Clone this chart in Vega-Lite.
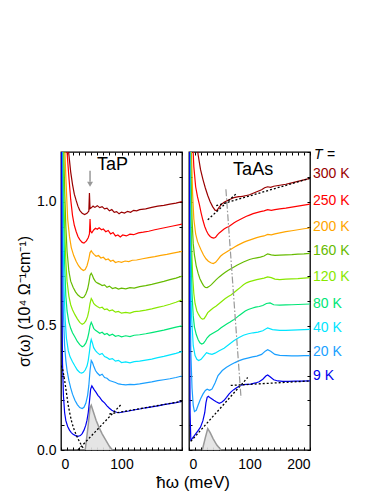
{
"$schema": "https://vega.github.io/schema/vega-lite/v6.json",
"padding": {"left": 15, "top": 147, "right": 0, "bottom": 0},
"background": "white",
"spacing": 3,
"config": {
  "font": "Liberation Sans",
  "view": {"stroke": "black", "strokeWidth": 1.3},
  "axis": {"domain": false, "grid": false, "tickColor": "black", "tickWidth": 1, "labelFont": "Liberation Sans", "labelFontSize": 14, "labelColor": "black", "titleFont": "Liberation Sans", "titleFontWeight": "normal", "titleColor": "black"}
},
"title": {"text": "ħω (meV)", "orient": "bottom", "anchor": "middle", "fontSize": 17, "fontWeight": "normal", "font": "Liberation Sans", "color": "black", "offset": 3, "dx": 10},
"datasets": {
"tap": [
{"T":"300 K","e":2,"s":1.6},{"T":"300 K","e":6,"s":1.38},{"T":"300 K","e":10,"s":1.26},{"T":"300 K","e":13,"s":1.19},{"T":"300 K","e":16,"s":1.12},{"T":"300 K","e":19,"s":1.07},{"T":"300 K","e":22,"s":1.03},{"T":"300 K","e":25,"s":1.005},{"T":"300 K","e":28,"s":0.982},{"T":"300 K","e":31,"s":0.965},{"T":"300 K","e":35,"s":0.953},{"T":"300 K","e":39,"s":0.948},{"T":"300 K","e":43,"s":0.953},{"T":"300 K","e":46,"s":0.962},{"T":"300 K","e":47,"s":1.035},{"T":"300 K","e":48,"s":0.972},{"T":"300 K","e":50,"s":0.975},{"T":"300 K","e":53,"s":0.982},{"T":"300 K","e":56,"s":0.977},{"T":"300 K","e":60,"s":0.984},{"T":"300 K","e":64,"s":0.976},{"T":"300 K","e":68,"s":0.98},{"T":"300 K","e":72,"s":0.971},{"T":"300 K","e":76,"s":0.974},{"T":"300 K","e":80,"s":0.963},{"T":"300 K","e":84,"s":0.968},{"T":"300 K","e":88,"s":0.957},{"T":"300 K","e":92,"s":0.96},{"T":"300 K","e":96,"s":0.951},{"T":"300 K","e":100,"s":0.958},{"T":"300 K","e":105,"s":0.954},{"T":"300 K","e":110,"s":0.961},{"T":"300 K","e":115,"s":0.957},{"T":"300 K","e":120,"s":0.965},{"T":"300 K","e":125,"s":0.963},{"T":"300 K","e":130,"s":0.968},{"T":"300 K","e":140,"s":0.971},{"T":"300 K","e":150,"s":0.977},{"T":"300 K","e":160,"s":0.982},{"T":"300 K","e":170,"s":0.985},{"T":"300 K","e":180,"s":0.99},{"T":"300 K","e":190,"s":0.994},{"T":"300 K","e":200,"s":1.0},
{"T":"250 K","e":2,"s":1.6},{"T":"250 K","e":6,"s":1.35},{"T":"250 K","e":10,"s":1.2},{"T":"250 K","e":13,"s":1.1},{"T":"250 K","e":16,"s":1.01},{"T":"250 K","e":19,"s":0.945},{"T":"250 K","e":22,"s":0.905},{"T":"250 K","e":25,"s":0.88},{"T":"250 K","e":28,"s":0.86},{"T":"250 K","e":31,"s":0.847},{"T":"250 K","e":35,"s":0.836},{"T":"250 K","e":38,"s":0.833},{"T":"250 K","e":42,"s":0.842},{"T":"250 K","e":45,"s":0.855},{"T":"250 K","e":47,"s":0.87},{"T":"250 K","e":48,"s":0.93},{"T":"250 K","e":49,"s":0.88},{"T":"250 K","e":51,"s":0.875},{"T":"250 K","e":54,"s":0.886},{"T":"250 K","e":57,"s":0.893},{"T":"250 K","e":60,"s":0.889},{"T":"250 K","e":63,"s":0.895},{"T":"250 K","e":67,"s":0.887},{"T":"250 K","e":70,"s":0.89},{"T":"250 K","e":74,"s":0.879},{"T":"250 K","e":78,"s":0.884},{"T":"250 K","e":82,"s":0.87},{"T":"250 K","e":86,"s":0.876},{"T":"250 K","e":90,"s":0.862},{"T":"250 K","e":94,"s":0.866},{"T":"250 K","e":98,"s":0.858},{"T":"250 K","e":102,"s":0.866},{"T":"250 K","e":108,"s":0.862},{"T":"250 K","e":114,"s":0.869},{"T":"250 K","e":120,"s":0.867},{"T":"250 K","e":128,"s":0.874},{"T":"250 K","e":136,"s":0.877},{"T":"250 K","e":145,"s":0.881},{"T":"250 K","e":155,"s":0.887},{"T":"250 K","e":165,"s":0.892},{"T":"250 K","e":175,"s":0.897},{"T":"250 K","e":185,"s":0.902},{"T":"250 K","e":200,"s":0.91},
{"T":"200 K","e":2,"s":1.6},{"T":"200 K","e":5,"s":1.3},{"T":"200 K","e":8,"s":1.1},{"T":"200 K","e":11,"s":0.93},{"T":"200 K","e":14,"s":0.86},{"T":"200 K","e":17,"s":0.815},{"T":"200 K","e":21,"s":0.783},{"T":"200 K","e":25,"s":0.76},{"T":"200 K","e":29,"s":0.742},{"T":"200 K","e":33,"s":0.73},{"T":"200 K","e":37,"s":0.723},{"T":"200 K","e":40,"s":0.727},{"T":"200 K","e":43,"s":0.742},{"T":"200 K","e":46,"s":0.77},{"T":"200 K","e":48,"s":0.795},{"T":"200 K","e":50,"s":0.802},{"T":"200 K","e":52,"s":0.795},{"T":"200 K","e":55,"s":0.787},{"T":"200 K","e":58,"s":0.78},{"T":"200 K","e":62,"s":0.783},{"T":"200 K","e":66,"s":0.773},{"T":"200 K","e":70,"s":0.776},{"T":"200 K","e":74,"s":0.766},{"T":"200 K","e":78,"s":0.769},{"T":"200 K","e":82,"s":0.76},{"T":"200 K","e":86,"s":0.764},{"T":"200 K","e":90,"s":0.755},{"T":"200 K","e":95,"s":0.759},{"T":"200 K","e":100,"s":0.756},{"T":"200 K","e":106,"s":0.761},{"T":"200 K","e":112,"s":0.759},{"T":"200 K","e":118,"s":0.764},{"T":"200 K","e":125,"s":0.765},{"T":"200 K","e":135,"s":0.77},{"T":"200 K","e":145,"s":0.775},{"T":"200 K","e":155,"s":0.779},{"T":"200 K","e":165,"s":0.784},{"T":"200 K","e":175,"s":0.788},{"T":"200 K","e":185,"s":0.793},{"T":"200 K","e":200,"s":0.8},
{"T":"160 K","e":2,"s":1.5},{"T":"160 K","e":4,"s":1.25},{"T":"160 K","e":6,"s":1.05},{"T":"160 K","e":8,"s":0.9},{"T":"160 K","e":10,"s":0.8},{"T":"160 K","e":13,"s":0.72},{"T":"160 K","e":16,"s":0.68},{"T":"160 K","e":20,"s":0.655},{"T":"160 K","e":24,"s":0.637},{"T":"160 K","e":28,"s":0.624},{"T":"160 K","e":32,"s":0.616},{"T":"160 K","e":35,"s":0.613},{"T":"160 K","e":38,"s":0.616},{"T":"160 K","e":41,"s":0.628},{"T":"160 K","e":44,"s":0.648},{"T":"160 K","e":46,"s":0.672},{"T":"160 K","e":48,"s":0.703},{"T":"160 K","e":50,"s":0.712},{"T":"160 K","e":52,"s":0.703},{"T":"160 K","e":54,"s":0.69},{"T":"160 K","e":57,"s":0.678},{"T":"160 K","e":60,"s":0.673},{"T":"160 K","e":64,"s":0.668},{"T":"160 K","e":68,"s":0.662},{"T":"160 K","e":72,"s":0.665},{"T":"160 K","e":76,"s":0.655},{"T":"160 K","e":80,"s":0.66},{"T":"160 K","e":85,"s":0.65},{"T":"160 K","e":90,"s":0.654},{"T":"160 K","e":95,"s":0.648},{"T":"160 K","e":100,"s":0.652},{"T":"160 K","e":107,"s":0.649},{"T":"160 K","e":114,"s":0.654},{"T":"160 K","e":121,"s":0.652},{"T":"160 K","e":130,"s":0.658},{"T":"160 K","e":140,"s":0.662},{"T":"160 K","e":150,"s":0.667},{"T":"160 K","e":160,"s":0.673},{"T":"160 K","e":170,"s":0.679},{"T":"160 K","e":180,"s":0.686},{"T":"160 K","e":190,"s":0.692},{"T":"160 K","e":200,"s":0.7},
{"T":"120 K","e":2,"s":1.4},{"T":"120 K","e":4,"s":1.1},{"T":"120 K","e":6,"s":0.9},{"T":"120 K","e":8,"s":0.76},{"T":"120 K","e":10,"s":0.68},{"T":"120 K","e":13,"s":0.62},{"T":"120 K","e":16,"s":0.585},{"T":"120 K","e":19,"s":0.565},{"T":"120 K","e":23,"s":0.545},{"T":"120 K","e":27,"s":0.528},{"T":"120 K","e":31,"s":0.514},{"T":"120 K","e":35,"s":0.506},{"T":"120 K","e":38,"s":0.51},{"T":"120 K","e":41,"s":0.52},{"T":"120 K","e":44,"s":0.538},{"T":"120 K","e":46,"s":0.56},{"T":"120 K","e":48,"s":0.59},{"T":"120 K","e":50,"s":0.61},{"T":"120 K","e":52,"s":0.602},{"T":"120 K","e":54,"s":0.59},{"T":"120 K","e":57,"s":0.583},{"T":"120 K","e":60,"s":0.578},{"T":"120 K","e":64,"s":0.572},{"T":"120 K","e":68,"s":0.575},{"T":"120 K","e":72,"s":0.565},{"T":"120 K","e":76,"s":0.568},{"T":"120 K","e":80,"s":0.56},{"T":"120 K","e":85,"s":0.564},{"T":"120 K","e":90,"s":0.555},{"T":"120 K","e":95,"s":0.558},{"T":"120 K","e":100,"s":0.551},{"T":"120 K","e":107,"s":0.554},{"T":"120 K","e":114,"s":0.551},{"T":"120 K","e":121,"s":0.557},{"T":"120 K","e":130,"s":0.559},{"T":"120 K","e":140,"s":0.563},{"T":"120 K","e":150,"s":0.568},{"T":"120 K","e":160,"s":0.574},{"T":"120 K","e":170,"s":0.58},{"T":"120 K","e":180,"s":0.587},{"T":"120 K","e":190,"s":0.595},{"T":"120 K","e":200,"s":0.605},
{"T":"80 K","e":2,"s":1.3},{"T":"80 K","e":4,"s":0.95},{"T":"80 K","e":6,"s":0.75},{"T":"80 K","e":8,"s":0.62},{"T":"80 K","e":10,"s":0.56},{"T":"80 K","e":13,"s":0.515},{"T":"80 K","e":16,"s":0.49},{"T":"80 K","e":19,"s":0.472},{"T":"80 K","e":23,"s":0.455},{"T":"80 K","e":27,"s":0.437},{"T":"80 K","e":31,"s":0.424},{"T":"80 K","e":35,"s":0.416},{"T":"80 K","e":38,"s":0.42},{"T":"80 K","e":41,"s":0.43},{"T":"80 K","e":44,"s":0.45},{"T":"80 K","e":46,"s":0.472},{"T":"80 K","e":48,"s":0.5},{"T":"80 K","e":50,"s":0.514},{"T":"80 K","e":52,"s":0.503},{"T":"80 K","e":54,"s":0.49},{"T":"80 K","e":57,"s":0.482},{"T":"80 K","e":60,"s":0.477},{"T":"80 K","e":64,"s":0.47},{"T":"80 K","e":68,"s":0.474},{"T":"80 K","e":72,"s":0.465},{"T":"80 K","e":76,"s":0.469},{"T":"80 K","e":80,"s":0.461},{"T":"80 K","e":85,"s":0.466},{"T":"80 K","e":90,"s":0.458},{"T":"80 K","e":95,"s":0.461},{"T":"80 K","e":100,"s":0.456},{"T":"80 K","e":107,"s":0.46},{"T":"80 K","e":114,"s":0.457},{"T":"80 K","e":121,"s":0.462},{"T":"80 K","e":130,"s":0.464},{"T":"80 K","e":140,"s":0.468},{"T":"80 K","e":150,"s":0.473},{"T":"80 K","e":160,"s":0.478},{"T":"80 K","e":170,"s":0.483},{"T":"80 K","e":180,"s":0.489},{"T":"80 K","e":190,"s":0.495},{"T":"80 K","e":200,"s":0.5},
{"T":"40 K","e":1.5,"s":1.3},{"T":"40 K","e":3,"s":0.9},{"T":"40 K","e":5,"s":0.65},{"T":"40 K","e":7,"s":0.52},{"T":"40 K","e":9,"s":0.45},{"T":"40 K","e":12,"s":0.4},{"T":"40 K","e":15,"s":0.375},{"T":"40 K","e":19,"s":0.355},{"T":"40 K","e":23,"s":0.338},{"T":"40 K","e":27,"s":0.322},{"T":"40 K","e":31,"s":0.312},{"T":"40 K","e":34,"s":0.31},{"T":"40 K","e":37,"s":0.313},{"T":"40 K","e":40,"s":0.322},{"T":"40 K","e":43,"s":0.338},{"T":"40 K","e":45,"s":0.36},{"T":"40 K","e":47,"s":0.395},{"T":"40 K","e":49,"s":0.435},{"T":"40 K","e":50,"s":0.445},{"T":"40 K","e":52,"s":0.43},{"T":"40 K","e":54,"s":0.412},{"T":"40 K","e":57,"s":0.4},{"T":"40 K","e":60,"s":0.392},{"T":"40 K","e":64,"s":0.384},{"T":"40 K","e":68,"s":0.389},{"T":"40 K","e":72,"s":0.376},{"T":"40 K","e":76,"s":0.372},{"T":"40 K","e":80,"s":0.365},{"T":"40 K","e":85,"s":0.368},{"T":"40 K","e":90,"s":0.358},{"T":"40 K","e":95,"s":0.361},{"T":"40 K","e":100,"s":0.352},{"T":"40 K","e":107,"s":0.355},{"T":"40 K","e":114,"s":0.351},{"T":"40 K","e":121,"s":0.356},{"T":"40 K","e":130,"s":0.358},{"T":"40 K","e":140,"s":0.362},{"T":"40 K","e":150,"s":0.366},{"T":"40 K","e":160,"s":0.372},{"T":"40 K","e":170,"s":0.377},{"T":"40 K","e":180,"s":0.383},{"T":"40 K","e":190,"s":0.389},{"T":"40 K","e":200,"s":0.396},
{"T":"20 K","e":1,"s":1.3},{"T":"20 K","e":2.5,"s":0.8},{"T":"20 K","e":4,"s":0.55},{"T":"20 K","e":6,"s":0.42},{"T":"20 K","e":8,"s":0.36},{"T":"20 K","e":10,"s":0.32},{"T":"20 K","e":13,"s":0.28},{"T":"20 K","e":16,"s":0.25},{"T":"20 K","e":19,"s":0.225},{"T":"20 K","e":23,"s":0.2},{"T":"20 K","e":27,"s":0.183},{"T":"20 K","e":31,"s":0.171},{"T":"20 K","e":35,"s":0.167},{"T":"20 K","e":38,"s":0.172},{"T":"20 K","e":41,"s":0.188},{"T":"20 K","e":44,"s":0.22},{"T":"20 K","e":46,"s":0.26},{"T":"20 K","e":48,"s":0.32},{"T":"20 K","e":50,"s":0.36},{"T":"20 K","e":52,"s":0.352},{"T":"20 K","e":54,"s":0.338},{"T":"20 K","e":57,"s":0.32},{"T":"20 K","e":60,"s":0.31},{"T":"20 K","e":64,"s":0.3},{"T":"20 K","e":68,"s":0.305},{"T":"20 K","e":72,"s":0.292},{"T":"20 K","e":76,"s":0.289},{"T":"20 K","e":80,"s":0.28},{"T":"20 K","e":85,"s":0.276},{"T":"20 K","e":90,"s":0.272},{"T":"20 K","e":95,"s":0.266},{"T":"20 K","e":100,"s":0.264},{"T":"20 K","e":107,"s":0.262},{"T":"20 K","e":114,"s":0.264},{"T":"20 K","e":121,"s":0.263},{"T":"20 K","e":130,"s":0.266},{"T":"20 K","e":140,"s":0.27},{"T":"20 K","e":150,"s":0.274},{"T":"20 K","e":160,"s":0.279},{"T":"20 K","e":170,"s":0.283},{"T":"20 K","e":180,"s":0.287},{"T":"20 K","e":190,"s":0.292},{"T":"20 K","e":200,"s":0.298},
{"T":"9 K","e":0.8,"s":1.3},{"T":"9 K","e":1.5,"s":0.7},{"T":"9 K","e":2.5,"s":0.35},{"T":"9 K","e":4,"s":0.22},{"T":"9 K","e":6,"s":0.15},{"T":"9 K","e":8,"s":0.118},{"T":"9 K","e":11,"s":0.095},{"T":"9 K","e":14,"s":0.08},{"T":"9 K","e":17,"s":0.07},{"T":"9 K","e":20,"s":0.063},{"T":"9 K","e":24,"s":0.058},{"T":"9 K","e":28,"s":0.055},{"T":"9 K","e":32,"s":0.058},{"T":"9 K","e":35,"s":0.066},{"T":"9 K","e":38,"s":0.08},{"T":"9 K","e":41,"s":0.1},{"T":"9 K","e":43,"s":0.12},{"T":"9 K","e":45,"s":0.15},{"T":"9 K","e":47,"s":0.195},{"T":"9 K","e":49,"s":0.245},{"T":"9 K","e":51,"s":0.258},{"T":"9 K","e":53,"s":0.25},{"T":"9 K","e":55,"s":0.242},{"T":"9 K","e":58,"s":0.232},{"T":"9 K","e":61,"s":0.22},{"T":"9 K","e":64,"s":0.212},{"T":"9 K","e":68,"s":0.198},{"T":"9 K","e":72,"s":0.19},{"T":"9 K","e":76,"s":0.178},{"T":"9 K","e":80,"s":0.168},{"T":"9 K","e":84,"s":0.16},{"T":"9 K","e":88,"s":0.155},{"T":"9 K","e":92,"s":0.152},{"T":"9 K","e":96,"s":0.15},{"T":"9 K","e":100,"s":0.152},{"T":"9 K","e":110,"s":0.156},{"T":"9 K","e":120,"s":0.161},{"T":"9 K","e":130,"s":0.165},{"T":"9 K","e":140,"s":0.17},{"T":"9 K","e":150,"s":0.174},{"T":"9 K","e":160,"s":0.178},{"T":"9 K","e":170,"s":0.183},{"T":"9 K","e":180,"s":0.187},{"T":"9 K","e":190,"s":0.191},{"T":"9 K","e":200,"s":0.196}
],
"taas": [
{"T":"300 K","e":3,"s":1.8},{"T":"300 K","e":7,"s":1.45},{"T":"300 K","e":11,"s":1.27},{"T":"300 K","e":15,"s":1.19},{"T":"300 K","e":19,"s":1.13},{"T":"300 K","e":23,"s":1.09},{"T":"300 K","e":27,"s":1.055},{"T":"300 K","e":31,"s":1.025},{"T":"300 K","e":35,"s":1.0},{"T":"300 K","e":39,"s":0.98},{"T":"300 K","e":43,"s":0.966},{"T":"300 K","e":46,"s":0.964},{"T":"300 K","e":50,"s":0.978},{"T":"300 K","e":54,"s":0.99},{"T":"300 K","e":58,"s":0.998},{"T":"300 K","e":62,"s":1.003},{"T":"300 K","e":66,"s":1.008},{"T":"300 K","e":70,"s":1.012},{"T":"300 K","e":74,"s":1.016},{"T":"300 K","e":78,"s":1.018},{"T":"300 K","e":82,"s":1.02},{"T":"300 K","e":86,"s":1.02},{"T":"300 K","e":90,"s":1.022},{"T":"300 K","e":95,"s":1.025},{"T":"300 K","e":100,"s":1.028},{"T":"300 K","e":105,"s":1.033},{"T":"300 K","e":110,"s":1.038},{"T":"300 K","e":115,"s":1.043},{"T":"300 K","e":120,"s":1.048},{"T":"300 K","e":125,"s":1.056},{"T":"300 K","e":130,"s":1.06},{"T":"300 K","e":135,"s":1.058},{"T":"300 K","e":140,"s":1.062},{"T":"300 K","e":145,"s":1.064},{"T":"300 K","e":150,"s":1.066},{"T":"300 K","e":160,"s":1.07},{"T":"300 K","e":170,"s":1.076},{"T":"300 K","e":180,"s":1.082},{"T":"300 K","e":190,"s":1.088},{"T":"300 K","e":200,"s":1.094},
{"T":"250 K","e":2,"s":1.6},{"T":"250 K","e":5,"s":1.3},{"T":"250 K","e":8,"s":1.14},{"T":"250 K","e":11,"s":1.06},{"T":"250 K","e":14,"s":1.02},{"T":"250 K","e":17,"s":0.99},{"T":"250 K","e":20,"s":0.955},{"T":"250 K","e":23,"s":0.925},{"T":"250 K","e":26,"s":0.9},{"T":"250 K","e":29,"s":0.882},{"T":"250 K","e":32,"s":0.868},{"T":"250 K","e":35,"s":0.86},{"T":"250 K","e":38,"s":0.855},{"T":"250 K","e":41,"s":0.853},{"T":"250 K","e":44,"s":0.857},{"T":"250 K","e":47,"s":0.866},{"T":"250 K","e":50,"s":0.874},{"T":"250 K","e":54,"s":0.882},{"T":"250 K","e":58,"s":0.89},{"T":"250 K","e":62,"s":0.896},{"T":"250 K","e":66,"s":0.9},{"T":"250 K","e":70,"s":0.907},{"T":"250 K","e":74,"s":0.914},{"T":"250 K","e":78,"s":0.92},{"T":"250 K","e":82,"s":0.925},{"T":"250 K","e":86,"s":0.93},{"T":"250 K","e":90,"s":0.935},{"T":"250 K","e":95,"s":0.941},{"T":"250 K","e":100,"s":0.946},{"T":"250 K","e":106,"s":0.952},{"T":"250 K","e":112,"s":0.956},{"T":"250 K","e":118,"s":0.96},{"T":"250 K","e":124,"s":0.963},{"T":"250 K","e":130,"s":0.968},{"T":"250 K","e":136,"s":0.965},{"T":"250 K","e":142,"s":0.968},{"T":"250 K","e":150,"s":0.971},{"T":"250 K","e":160,"s":0.974},{"T":"250 K","e":170,"s":0.978},{"T":"250 K","e":180,"s":0.982},{"T":"250 K","e":190,"s":0.986},{"T":"250 K","e":200,"s":0.99},
{"T":"200 K","e":2,"s":1.5},{"T":"200 K","e":4,"s":1.2},{"T":"200 K","e":6,"s":1.03},{"T":"200 K","e":8,"s":0.93},{"T":"200 K","e":11,"s":0.87},{"T":"200 K","e":14,"s":0.84},{"T":"200 K","e":17,"s":0.822},{"T":"200 K","e":20,"s":0.805},{"T":"200 K","e":24,"s":0.785},{"T":"200 K","e":28,"s":0.77},{"T":"200 K","e":32,"s":0.76},{"T":"200 K","e":36,"s":0.754},{"T":"200 K","e":40,"s":0.751},{"T":"200 K","e":44,"s":0.756},{"T":"200 K","e":48,"s":0.768},{"T":"200 K","e":52,"s":0.78},{"T":"200 K","e":56,"s":0.788},{"T":"200 K","e":60,"s":0.794},{"T":"200 K","e":64,"s":0.8},{"T":"200 K","e":68,"s":0.806},{"T":"200 K","e":72,"s":0.812},{"T":"200 K","e":76,"s":0.818},{"T":"200 K","e":80,"s":0.824},{"T":"200 K","e":85,"s":0.83},{"T":"200 K","e":90,"s":0.836},{"T":"200 K","e":95,"s":0.841},{"T":"200 K","e":100,"s":0.845},{"T":"200 K","e":106,"s":0.85},{"T":"200 K","e":112,"s":0.855},{"T":"200 K","e":118,"s":0.859},{"T":"200 K","e":124,"s":0.862},{"T":"200 K","e":130,"s":0.868},{"T":"200 K","e":136,"s":0.866},{"T":"200 K","e":142,"s":0.87},{"T":"200 K","e":150,"s":0.874},{"T":"200 K","e":160,"s":0.879},{"T":"200 K","e":170,"s":0.883},{"T":"200 K","e":180,"s":0.887},{"T":"200 K","e":190,"s":0.891},{"T":"200 K","e":200,"s":0.894},
{"T":"160 K","e":1.5,"s":1.5},{"T":"160 K","e":3,"s":1.15},{"T":"160 K","e":5,"s":0.93},{"T":"160 K","e":7,"s":0.83},{"T":"160 K","e":9,"s":0.785},{"T":"160 K","e":12,"s":0.74},{"T":"160 K","e":15,"s":0.712},{"T":"160 K","e":18,"s":0.69},{"T":"160 K","e":21,"s":0.675},{"T":"160 K","e":24,"s":0.662},{"T":"160 K","e":27,"s":0.655},{"T":"160 K","e":30,"s":0.654},{"T":"160 K","e":33,"s":0.658},{"T":"160 K","e":37,"s":0.666},{"T":"160 K","e":41,"s":0.676},{"T":"160 K","e":45,"s":0.686},{"T":"160 K","e":50,"s":0.697},{"T":"160 K","e":55,"s":0.707},{"T":"160 K","e":60,"s":0.716},{"T":"160 K","e":65,"s":0.724},{"T":"160 K","e":70,"s":0.731},{"T":"160 K","e":75,"s":0.738},{"T":"160 K","e":80,"s":0.745},{"T":"160 K","e":85,"s":0.751},{"T":"160 K","e":90,"s":0.757},{"T":"160 K","e":95,"s":0.762},{"T":"160 K","e":100,"s":0.767},{"T":"160 K","e":106,"s":0.771},{"T":"160 K","e":112,"s":0.774},{"T":"160 K","e":118,"s":0.777},{"T":"160 K","e":124,"s":0.781},{"T":"160 K","e":130,"s":0.79},{"T":"160 K","e":136,"s":0.786},{"T":"160 K","e":142,"s":0.784},{"T":"160 K","e":150,"s":0.785},{"T":"160 K","e":160,"s":0.786},{"T":"160 K","e":170,"s":0.787},{"T":"160 K","e":180,"s":0.789},{"T":"160 K","e":190,"s":0.79},{"T":"160 K","e":200,"s":0.792},
{"T":"120 K","e":1.2,"s":1.5},{"T":"120 K","e":2.5,"s":1.1},{"T":"120 K","e":4,"s":0.85},{"T":"120 K","e":6,"s":0.7},{"T":"120 K","e":8,"s":0.63},{"T":"120 K","e":10,"s":0.59},{"T":"120 K","e":13,"s":0.56},{"T":"120 K","e":16,"s":0.545},{"T":"120 K","e":19,"s":0.533},{"T":"120 K","e":22,"s":0.527},{"T":"120 K","e":25,"s":0.529},{"T":"120 K","e":28,"s":0.54},{"T":"120 K","e":31,"s":0.553},{"T":"120 K","e":35,"s":0.562},{"T":"120 K","e":40,"s":0.572},{"T":"120 K","e":45,"s":0.58},{"T":"120 K","e":50,"s":0.59},{"T":"120 K","e":55,"s":0.6},{"T":"120 K","e":60,"s":0.61},{"T":"120 K","e":65,"s":0.618},{"T":"120 K","e":70,"s":0.625},{"T":"120 K","e":75,"s":0.635},{"T":"120 K","e":80,"s":0.645},{"T":"120 K","e":85,"s":0.655},{"T":"120 K","e":90,"s":0.665},{"T":"120 K","e":95,"s":0.673},{"T":"120 K","e":100,"s":0.678},{"T":"120 K","e":106,"s":0.682},{"T":"120 K","e":112,"s":0.686},{"T":"120 K","e":118,"s":0.689},{"T":"120 K","e":124,"s":0.692},{"T":"120 K","e":130,"s":0.697},{"T":"120 K","e":136,"s":0.694},{"T":"120 K","e":142,"s":0.688},{"T":"120 K","e":150,"s":0.686},{"T":"120 K","e":160,"s":0.688},{"T":"120 K","e":170,"s":0.689},{"T":"120 K","e":180,"s":0.69},{"T":"120 K","e":190,"s":0.692},{"T":"120 K","e":200,"s":0.694},
{"T":"80 K","e":1,"s":1.5},{"T":"80 K","e":2,"s":1.05},{"T":"80 K","e":3.5,"s":0.78},{"T":"80 K","e":5,"s":0.63},{"T":"80 K","e":7,"s":0.54},{"T":"80 K","e":9,"s":0.495},{"T":"80 K","e":12,"s":0.465},{"T":"80 K","e":15,"s":0.445},{"T":"80 K","e":18,"s":0.432},{"T":"80 K","e":21,"s":0.427},{"T":"80 K","e":24,"s":0.43},{"T":"80 K","e":27,"s":0.44},{"T":"80 K","e":30,"s":0.452},{"T":"80 K","e":34,"s":0.462},{"T":"80 K","e":38,"s":0.468},{"T":"80 K","e":43,"s":0.475},{"T":"80 K","e":48,"s":0.482},{"T":"80 K","e":53,"s":0.492},{"T":"80 K","e":58,"s":0.5},{"T":"80 K","e":63,"s":0.508},{"T":"80 K","e":68,"s":0.515},{"T":"80 K","e":73,"s":0.523},{"T":"80 K","e":78,"s":0.532},{"T":"80 K","e":83,"s":0.542},{"T":"80 K","e":88,"s":0.551},{"T":"80 K","e":93,"s":0.56},{"T":"80 K","e":98,"s":0.566},{"T":"80 K","e":104,"s":0.571},{"T":"80 K","e":110,"s":0.575},{"T":"80 K","e":116,"s":0.578},{"T":"80 K","e":122,"s":0.582},{"T":"80 K","e":128,"s":0.59},{"T":"80 K","e":134,"s":0.592},{"T":"80 K","e":140,"s":0.585},{"T":"80 K","e":150,"s":0.583},{"T":"80 K","e":160,"s":0.584},{"T":"80 K","e":170,"s":0.585},{"T":"80 K","e":180,"s":0.586},{"T":"80 K","e":190,"s":0.587},{"T":"80 K","e":200,"s":0.588},
{"T":"40 K","e":1,"s":1.4},{"T":"40 K","e":2,"s":0.8},{"T":"40 K","e":4,"s":0.55},{"T":"40 K","e":7,"s":0.42},{"T":"40 K","e":10,"s":0.38},{"T":"40 K","e":13,"s":0.365},{"T":"40 K","e":16,"s":0.36},{"T":"40 K","e":20,"s":0.365},{"T":"40 K","e":25,"s":0.38},{"T":"40 K","e":29,"s":0.392},{"T":"40 K","e":33,"s":0.388},{"T":"40 K","e":38,"s":0.385},{"T":"40 K","e":43,"s":0.39},{"T":"40 K","e":50,"s":0.4},{"T":"40 K","e":58,"s":0.41},{"T":"40 K","e":66,"s":0.425},{"T":"40 K","e":74,"s":0.44},{"T":"40 K","e":82,"s":0.452},{"T":"40 K","e":90,"s":0.462},{"T":"40 K","e":98,"s":0.468},{"T":"40 K","e":106,"s":0.472},{"T":"40 K","e":114,"s":0.475},{"T":"40 K","e":122,"s":0.48},{"T":"40 K","e":130,"s":0.492},{"T":"40 K","e":138,"s":0.485},{"T":"40 K","e":150,"s":0.482},{"T":"40 K","e":160,"s":0.482},{"T":"40 K","e":170,"s":0.483},{"T":"40 K","e":180,"s":0.484},{"T":"40 K","e":190,"s":0.485},{"T":"40 K","e":200,"s":0.486},
{"T":"20 K","e":1,"s":1.3},{"T":"20 K","e":1.8,"s":0.7},{"T":"20 K","e":3,"s":0.4},{"T":"20 K","e":5,"s":0.25},{"T":"20 K","e":7,"s":0.18},{"T":"20 K","e":9,"s":0.155},{"T":"20 K","e":12,"s":0.16},{"T":"20 K","e":15,"s":0.18},{"T":"20 K","e":19,"s":0.205},{"T":"20 K","e":23,"s":0.225},{"T":"20 K","e":27,"s":0.24},{"T":"20 K","e":30,"s":0.245},{"T":"20 K","e":34,"s":0.24},{"T":"20 K","e":38,"s":0.245},{"T":"20 K","e":43,"s":0.27},{"T":"20 K","e":48,"s":0.3},{"T":"20 K","e":55,"s":0.32},{"T":"20 K","e":62,"s":0.333},{"T":"20 K","e":69,"s":0.343},{"T":"20 K","e":76,"s":0.352},{"T":"20 K","e":83,"s":0.36},{"T":"20 K","e":90,"s":0.366},{"T":"20 K","e":97,"s":0.37},{"T":"20 K","e":105,"s":0.375},{"T":"20 K","e":112,"s":0.378},{"T":"20 K","e":120,"s":0.385},{"T":"20 K","e":126,"s":0.398},{"T":"20 K","e":130,"s":0.404},{"T":"20 K","e":135,"s":0.398},{"T":"20 K","e":142,"s":0.385},{"T":"20 K","e":150,"s":0.381},{"T":"20 K","e":160,"s":0.38},{"T":"20 K","e":170,"s":0.379},{"T":"20 K","e":180,"s":0.379},{"T":"20 K","e":190,"s":0.38},{"T":"20 K","e":200,"s":0.38},
{"T":"9 K","e":0.5,"s":1.3},{"T":"9 K","e":1,"s":0.5},{"T":"9 K","e":1.8,"s":0.15},{"T":"9 K","e":3,"s":0.04},{"T":"9 K","e":5,"s":0.045},{"T":"9 K","e":8,"s":0.055},{"T":"9 K","e":11,"s":0.065},{"T":"9 K","e":15,"s":0.078},{"T":"9 K","e":19,"s":0.092},{"T":"9 K","e":23,"s":0.118},{"T":"9 K","e":26,"s":0.15},{"T":"9 K","e":28,"s":0.19},{"T":"9 K","e":30,"s":0.212},{"T":"9 K","e":32,"s":0.216},{"T":"9 K","e":35,"s":0.21},{"T":"9 K","e":38,"s":0.205},{"T":"9 K","e":41,"s":0.2},{"T":"9 K","e":45,"s":0.194},{"T":"9 K","e":50,"s":0.188},{"T":"9 K","e":54,"s":0.192},{"T":"9 K","e":58,"s":0.2},{"T":"9 K","e":62,"s":0.212},{"T":"9 K","e":66,"s":0.225},{"T":"9 K","e":70,"s":0.235},{"T":"9 K","e":74,"s":0.243},{"T":"9 K","e":78,"s":0.25},{"T":"9 K","e":82,"s":0.256},{"T":"9 K","e":86,"s":0.261},{"T":"9 K","e":90,"s":0.263},{"T":"9 K","e":95,"s":0.264},{"T":"9 K","e":102,"s":0.265},{"T":"9 K","e":110,"s":0.27},{"T":"9 K","e":116,"s":0.275},{"T":"9 K","e":122,"s":0.285},{"T":"9 K","e":127,"s":0.298},{"T":"9 K","e":130,"s":0.302},{"T":"9 K","e":134,"s":0.295},{"T":"9 K","e":140,"s":0.283},{"T":"9 K","e":147,"s":0.278},{"T":"9 K","e":155,"s":0.276},{"T":"9 K","e":165,"s":0.276},{"T":"9 K","e":175,"s":0.277},{"T":"9 K","e":185,"s":0.277},{"T":"9 K","e":200,"s":0.278}
],
"tapfit": [
{"g":"drude","e":0,"s":0.34},{"g":"drude","e":3,"s":0.322},{"g":"drude","e":6,"s":0.28},{"g":"drude","e":9,"s":0.23},{"g":"drude","e":12,"s":0.18},{"g":"drude","e":15,"s":0.142},{"g":"drude","e":18,"s":0.11},{"g":"drude","e":22,"s":0.08},{"g":"drude","e":26,"s":0.056},{"g":"drude","e":30,"s":0.036},{"g":"drude","e":34,"s":0.018},{"g":"drude","e":38,"s":0.003},
{"g":"lin","e":28,"s":0},{"g":"lin","e":100,"s":0.185},
{"g":"flat","e":80,"s":0.145},{"g":"flat","e":200,"s":0.196}
],
"taasfit": [
{"g":"a300","e":31,"s":0.927},{"g":"a300","e":78,"s":1.032},
{"g":"b300","e":45,"s":0.984},{"g":"b300","e":200,"s":1.094},
{"g":"a9","e":3,"s":0.035},{"g":"a9","e":97,"s":0.292},
{"g":"b9","e":69,"s":0.26},{"g":"b9","e":200,"s":0.278}
],
"taph": [
{"e":40,"s":0},{"e":45,"s":0.1},{"e":48,"s":0.17},{"e":50,"s":0.18},{"e":54,"s":0.15},{"e":58,"s":0.12},{"e":63,"s":0.09},{"e":68,"s":0.065},{"e":74,"s":0.04},{"e":80,"s":0.015},{"e":85,"s":0}
],
"taash": [
{"e":22,"s":0},{"e":27,"s":0.05},{"e":31,"s":0.086},{"e":35,"s":0.07},{"e":40,"s":0.045},{"e":46,"s":0.02},{"e":53,"s":0}
],
"labels": [
{"T":"300 K","s":1.113},{"T":"250 K","s":1.004},{"T":"200 K","s":0.898},{"T":"160 K","s":0.8},{"T":"120 K","s":0.698},{"T":"80 K","s":0.588},{"T":"40 K","s":0.491},{"T":"20 K","s":0.396},{"T":"9 K","s":0.298}
]
},
"hconcat": [
{
 "width": 121, "height": 298,
 "resolve": {"axis": {"x": "independent", "y": "independent"}},
 "layer": [
  {"data": {"name": "taph"}, "mark": {"type": "area", "fill": "#e2e2e2", "opacity": 0.9},
   "encoding": {"x": {"field": "e", "type": "quantitative", "scale": {"domain": [0, 200], "nice": false}, "axis": null},
                "y": {"field": "s", "type": "quantitative", "scale": {"domain": [0, 1.2], "nice": false, "zero": false}, "axis": null}}},
  {"data": {"name": "taph"}, "mark": {"type": "line", "color": "#999999", "strokeWidth": 1.5},
   "encoding": {"x": {"field": "e", "type": "quantitative", "axis": null}, "y": {"field": "s", "type": "quantitative", "axis": null}}},
  {"data": {"name": "tap"}, "mark": {"type": "line", "clip": true, "strokeWidth": 1.2},
   "encoding": {
     "x": {"field": "e", "type": "quantitative", "scale": {"domain": [0, 200], "nice": false},
           "axis": {"orient": "bottom", "title": null, "values": [0,10,20,30,40,50,60,70,80,90,100,110,120,130,140,150,160,170,180,190,200], "tickSize": -3, "labelPadding": 10, "format": "d", "labelExpr": "datum.value % 100 === 0 && datum.value < 200 ? datum.label : ''"}},
     "y": {"field": "s", "type": "quantitative", "scale": {"domain": [0, 1.2], "nice": false, "zero": false},
           "axis": {"orient": "left", "title": "σ(ω) (10⁴ Ω⁻¹cm⁻¹)", "titleFontSize": 16, "titlePadding": 4, "values": [0,0.1,0.2,0.3,0.4,0.5,0.6,0.7,0.8,0.9,1.0,1.1,1.2], "tickSize": -3, "labelPadding": 8, "format": ".1f", "labelExpr": "abs(datum.value*2 - round(datum.value*2)) < 0.001 ? datum.label : ''"}},
     "color": {"field": "T", "type": "nominal", "legend": null, "scale": {"domain": ["300 K","250 K","200 K","160 K","120 K","80 K","40 K","20 K","9 K"], "range": ["#990000","#ff0000","#ffa500","#66bb00","#88e800","#00e676","#00e5ff","#1a9fff","#0000ee"]}}
   }},
  {"data": {"name": "tapfit"}, "mark": {"type": "line", "color": "black", "strokeWidth": 1.3, "strokeDash": [2, 2], "clip": true},
   "encoding": {"x": {"field": "e", "type": "quantitative", "axis": null}, "y": {"field": "s", "type": "quantitative", "axis": null}, "detail": {"field": "g"}}},
  {"data": {"values": [{"e": 48, "s": 1.125, "s2": 1.08}]}, "mark": {"type": "rule", "color": "#999999", "strokeWidth": 1.5},
   "encoding": {"x": {"field": "e", "type": "quantitative", "axis": null}, "y": {"field": "s", "type": "quantitative", "axis": null}, "y2": {"field": "s2"}}},
  {"data": {"values": [{"e": 48, "s": 1.07}]}, "mark": {"type": "point", "shape": "triangle-down", "filled": true, "color": "#999999", "size": 35, "opacity": 1},
   "encoding": {"x": {"field": "e", "type": "quantitative", "axis": null}, "y": {"field": "s", "type": "quantitative", "axis": null}}},
  {"data": {"values": [{"e": 85, "s": 1.147, "t": "TaP"}]}, "mark": {"type": "text", "fontSize": 18, "color": "black", "align": "center", "baseline": "middle"},
   "encoding": {"text": {"field": "t"},
     "x": {"field": "e", "type": "quantitative", "axis": {"orient": "top", "title": null, "labels": false, "values": [0,10,20,30,40,50,60,70,80,90,100,110,120,130,140,150,160,170,180,190,200], "tickSize": -3}},
     "y": {"field": "s", "type": "quantitative", "axis": {"orient": "right", "title": null, "labels": false, "values": [0,0.1,0.2,0.3,0.4,0.5,0.6,0.7,0.8,0.9,1.0,1.1,1.2], "tickSize": -3}}}}
 ]
},
{
 "width": 121, "height": 298,
 "resolve": {"axis": {"x": "independent", "y": "independent"}},
 "layer": [
  {"data": {"name": "taash"}, "mark": {"type": "area", "fill": "#e2e2e2", "opacity": 0.9},
   "encoding": {"x": {"field": "e", "type": "quantitative", "scale": {"domain": [0, 200], "nice": false}, "axis": null},
                "y": {"field": "s", "type": "quantitative", "scale": {"domain": [0, 1.2], "nice": false, "zero": false}, "axis": null}}},
  {"data": {"name": "taash"}, "mark": {"type": "line", "color": "#999999", "strokeWidth": 1.5},
   "encoding": {"x": {"field": "e", "type": "quantitative", "axis": null}, "y": {"field": "s", "type": "quantitative", "axis": null}}},
  {"data": {"name": "taas"}, "mark": {"type": "line", "clip": true, "strokeWidth": 1.2},
   "encoding": {
     "x": {"field": "e", "type": "quantitative", "scale": {"domain": [0, 200], "nice": false},
           "axis": {"orient": "bottom", "title": null, "values": [0,10,20,30,40,50,60,70,80,90,100,110,120,130,140,150,160,170,180,190,200], "tickSize": -3, "labelPadding": 10, "format": "d", "labelExpr": "datum.value % 100 === 0 ? datum.label : ''"}},
     "y": {"field": "s", "type": "quantitative", "scale": {"domain": [0, 1.2], "nice": false, "zero": false},
           "axis": {"orient": "left", "title": null, "labels": false, "values": [0,0.1,0.2,0.3,0.4,0.5,0.6,0.7,0.8,0.9,1.0,1.1,1.2], "tickSize": -3}},
     "color": {"field": "T", "type": "nominal", "legend": null, "scale": {"domain": ["300 K","250 K","200 K","160 K","120 K","80 K","40 K","20 K","9 K"], "range": ["#990000","#ff0000","#ffa500","#66bb00","#88e800","#00e676","#00e5ff","#1a9fff","#0000ee"]}}
   }},
  {"data": {"name": "taasfit"}, "mark": {"type": "line", "color": "black", "strokeWidth": 1.3, "strokeDash": [2, 2], "clip": true},
   "encoding": {"x": {"field": "e", "type": "quantitative", "axis": null}, "y": {"field": "s", "type": "quantitative", "axis": null}, "detail": {"field": "g"}}},
  {"data": {"values": [{"e": 61, "s": 1.05}, {"e": 86, "s": 0.21}]}, "mark": {"type": "line", "color": "#999999", "strokeWidth": 1.2, "strokeDash": [7, 2, 1.5, 2]},
   "encoding": {"x": {"field": "e", "type": "quantitative", "axis": null}, "y": {"field": "s", "type": "quantitative", "axis": null}}},
  {"data": {"values": [{"e": 106, "s": 1.127, "t": "TaAs"}]}, "mark": {"type": "text", "fontSize": 18, "color": "black", "align": "center", "baseline": "middle"},
   "encoding": {"text": {"field": "t"},
     "x": {"field": "e", "type": "quantitative", "axis": {"orient": "top", "title": null, "labels": false, "values": [0,10,20,30,40,50,60,70,80,90,100,110,120,130,140,150,160,170,180,190,200], "tickSize": -3}},
     "y": {"field": "s", "type": "quantitative", "axis": {"orient": "right", "title": null, "labels": false, "values": [0,0.1,0.2,0.3,0.4,0.5,0.6,0.7,0.8,0.9,1.0,1.1,1.2], "tickSize": -3}}}},
  {"data": {"name": "labels"}, "mark": {"type": "text", "fontSize": 14, "align": "left", "baseline": "middle", "dx": 3},
   "encoding": {"text": {"field": "T"}, "x": {"datum": 200, "type": "quantitative", "axis": null}, "y": {"field": "s", "type": "quantitative", "axis": null},
     "color": {"field": "T", "type": "nominal", "legend": null, "scale": {"domain": ["300 K","250 K","200 K","160 K","120 K","80 K","40 K","20 K","9 K"], "range": ["#990000","#ff0000","#ffa500","#66bb00","#88e800","#00e676","#00e5ff","#1a9fff","#0000ee"]}}}},
  {"data": {"values": [{"t": "T", "s": 1.188}]}, "mark": {"type": "text", "fontSize": 14, "fontStyle": "italic", "align": "left", "baseline": "middle", "dx": 4, "color": "black"},
   "encoding": {"text": {"field": "t"}, "x": {"datum": 200, "type": "quantitative", "axis": null}, "y": {"field": "s", "type": "quantitative", "axis": null}}},
  {"data": {"values": [{"t": "=", "s": 1.188}]}, "mark": {"type": "text", "fontSize": 14, "align": "left", "baseline": "middle", "dx": 17, "color": "black"},
   "encoding": {"text": {"field": "t"}, "x": {"datum": 200, "type": "quantitative", "axis": null}, "y": {"field": "s", "type": "quantitative", "axis": null}}}
 ]
}
]
}
